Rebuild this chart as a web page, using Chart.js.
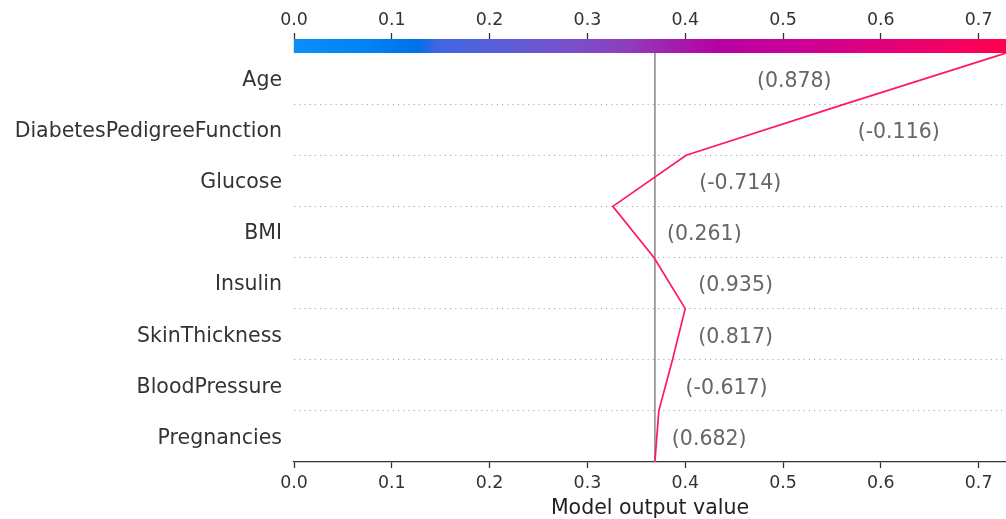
<!DOCTYPE html>
<html>
<head>
<meta charset="utf-8">
<script src="https://cdn.jsdelivr.net/npm/chart.js@4/dist/chart.umd.min.js"></script>
<style>
  html, body { margin: 0; padding: 0; background: #ffffff; }
  #wrap { width: 1006px; height: 519px; }
</style>
</head>
<body>
<div id="wrap"><canvas id="decision" width="1006" height="519"></canvas></div>
<script>
// Features, listed from the bottom row upwards (Age is the top row)
const features = ['Pregnancies', 'BloodPressure', 'SkinThickness', 'Insulin', 'BMI',
                  'Glucose', 'DiabetesPedigreeFunction', 'Age'];
// Observed (scaled) feature values shown next to the path
const featureValues = [0.682, -0.617, 0.817, 0.935, 0.261, -0.714, -0.116, 0.878];
// Model output along the decision path: base value, then after each feature is added
const baseValue = 0.369;
const outputPath = [0.369, 0.373, 0.387, 0.400, 0.368, 0.326, 0.401, 0.563, 0.728];
// Axis range and tick values
const xMin = 0.0;
const xMax = 0.728;
const xTicks = [0.0, 0.1, 0.2, 0.3, 0.4, 0.5, 0.6, 0.7];

const FONT = "'DejaVu Sans', 'Liberation Sans', sans-serif";
const TEXT_DARK = '#333333';
const TEXT_MID = '#666666';
const LINE_COLOR = '#ff1a60';

// Colour bar stops (blue -> purple -> red)
const barStops = [
  [0.00, '#0a8ffa'], [0.10, '#0283f4'], [0.175, '#0070ea'], [0.20, '#3e66e2'],
  [0.28, '#5760da'], [0.375, '#7453cd'], [0.47, '#8f3dbb'], [0.53, '#a31fab'],
  [0.60, '#b600a2'], [0.69, '#c9009a'], [0.83, '#e3007a'], [0.97, '#fc0057'],
  [1.00, '#ff0051']
];

const pathPoints = outputPath.map((v, i) => ({ x: v, y: i }));
const basePoints = [{ x: baseValue, y: 0 }, { x: baseValue, y: features.length }];

// Gradient colour bar sitting on top of the plot area
const colorBarPlugin = {
  id: 'colorBar',
  beforeDatasetsDraw(chart) {
    const { ctx, chartArea } = chart;
    const xs = chart.scales.x;
    const h = 14;
    const x0 = xs.getPixelForValue(xMin);
    const x1 = xs.getPixelForValue(xMax);
    const g = ctx.createLinearGradient(x0, 0, x1, 0);
    barStops.forEach(([o, c]) => g.addColorStop(o, c));
    ctx.save();
    ctx.fillStyle = g;
    ctx.fillRect(x0, chartArea.top - h, x1 - x0, h);
    ctx.restore();
  }
};

// Feature value annotations beside each segment of the path
const valueLabelPlugin = {
  id: 'valueLabels',
  afterDatasetsDraw(chart) {
    const { ctx, chartArea } = chart;
    const xs = chart.scales.x, ys = chart.scales.y;
    ctx.save();
    ctx.font = '20.5px ' + FONT;
    ctx.fillStyle = TEXT_MID;
    ctx.textBaseline = 'middle';
    features.forEach((f, i) => {
      const v = '(' + featureValues[i].toFixed(3).replace(/0+$/, '').replace(/\.$/, '') + ')';
      const a = outputPath[i], b = outputPath[i + 1];
      const y = ys.getPixelForValue(i + 0.5) + 3;
      let text = '  ' + v;
      let px = xs.getPixelForValue(Math.max(a, b));
      ctx.textAlign = 'left';
      if (px + ctx.measureText(text).width > chartArea.right) {
        text = v + '  ';
        px = xs.getPixelForValue(Math.min(a, b));
        ctx.textAlign = 'right';
      }
      ctx.fillText(text, px, y);
    });
    ctx.restore();
  }
};

new Chart(document.getElementById('decision'), {
  type: 'scatter',
  data: {
    datasets: [
      {
        data: basePoints,
        showLine: true,
        borderColor: '#999999',
        borderWidth: 1.8,
        pointRadius: 0,
        order: 2
      },
      {
        data: pathPoints,
        showLine: true,
        borderColor: LINE_COLOR,
        borderWidth: 1.7,
        pointRadius: 0,
        tension: 0,
        order: 1
      }
    ]
  },
  options: {
    responsive: false,
    devicePixelRatio: 1,
    animation: false,
    layout: { padding: 0 },
    plugins: { legend: { display: false }, tooltip: { enabled: false } },
    scales: {
      x: {
        type: 'linear',
        position: 'bottom',
        min: xMin,
        max: xMax,
        afterBuildTicks: s => { s.ticks = xTicks.map(v => ({ value: v })); },
        afterFit: s => { s.height = 57; },
        grid: { drawOnChartArea: false, drawTicks: true, tickLength: 6, tickColor: TEXT_DARK, tickWidth: 1.3 },
        border: { display: true, color: TEXT_DARK, width: 1.3 },
        ticks: {
          color: TEXT_DARK, padding: 5,
          font: { family: FONT, size: 17.4 },
          callback: v => Number(v).toFixed(1)
        },
        title: {
          display: true, text: 'Model output value', color: '#222222',
          font: { family: FONT, size: 20.5 }, padding: { top: 0, bottom: -2 }
        }
      },
      xTop: {
        type: 'linear',
        position: 'top',
        min: xMin,
        max: xMax,
        afterBuildTicks: s => { s.ticks = xTicks.map(v => ({ value: v })); },
        afterFit: s => { s.height = 53; },
        grid: { drawOnChartArea: false, drawTicks: true, tickLength: 20, tickColor: TEXT_DARK, tickWidth: 1.3 },
        border: { display: false },
        ticks: {
          color: TEXT_DARK, padding: 2,
          font: { family: FONT, size: 17.4 },
          callback: v => Number(v).toFixed(1)
        }
      },
      y: {
        type: 'linear',
        position: 'left',
        min: 0,
        max: features.length,
        // label ticks sit in the middle of each feature row (nudged for the text baseline)
        afterBuildTicks: s => { s.ticks = features.map((f, i) => ({ value: i + 0.46 })); },
        afterFit: s => { s.width = 294; },
        grid: { display: false, drawTicks: false },
        border: { display: false },
        ticks: {
          color: TEXT_DARK, padding: 12,
          font: { family: FONT, size: 20.5 },
          callback: v => features[Math.floor(v)]
        }
      },
      yRows: {
        type: 'linear',
        position: 'right',
        min: 0,
        max: features.length,
        afterBuildTicks: s => { s.ticks = features.slice(1).map((f, i) => ({ value: i + 1 })); },
        afterFit: s => { s.width = 0; },
        grid: { display: true, drawTicks: false, color: '#aaaaaa', lineWidth: 1 },
        border: { display: false, dash: [1.2, 4] },
        ticks: { display: false }
      }
    }
  },
  plugins: [colorBarPlugin, valueLabelPlugin]
});
</script>
</body>
</html>
